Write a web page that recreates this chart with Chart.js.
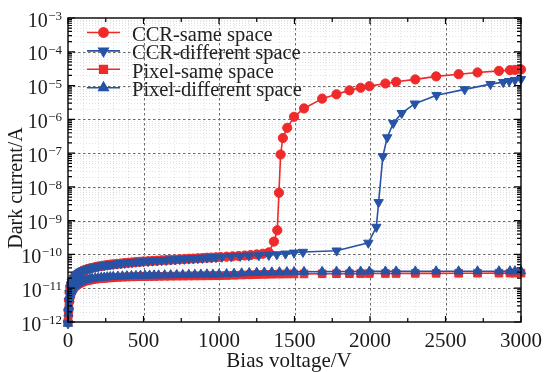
<!DOCTYPE html>
<html>
<head>
<meta charset="utf-8">
<script src="https://cdn.jsdelivr.net/npm/chart.js@4/dist/chart.umd.min.js"></script>
<style>
  html, body { margin: 0; padding: 0; background: #fff; }
  #wrap { width: 545px; height: 372px; position: relative; }
</style>
</head>
<body>
<div id="wrap"><canvas id="c" width="545" height="372"></canvas></div>
<script>
// ---------------- DATA ----------------
const seriesNames = ['CCR-same space', 'CCR-different space', 'Pixel-same space', 'Pixel-different space'];

const ccrSameV = [0,3,6,10,15,20,25,30,40,50,60,70,80,90,100,115,130,145,160,180,200,220,240,260,280,300,325,350,375,400,425,450,475,500,530,560,590,620,650,680,710,740,770,800,830,860,890,920,950,980,1010,1050,1090,1130,1170,1210,1250,1290,1330,1364,1386,1397,1408,1423,1452,1497,1563,1683,1778,1864,1938,1996,2102,2173,2300,2438,2587,2712,2854,2927,2960,3000];
const ccrSameI = [1.0e-12,2.2e-12,4.5e-12,7.5e-12,1.05e-11,1.3e-11,1.5e-11,1.7e-11,2.0e-11,2.3e-11,2.55e-11,2.75e-11,2.95e-11,3.1e-11,3.3e-11,3.5e-11,3.7e-11,3.85e-11,4.0e-11,4.2e-11,4.4e-11,4.55e-11,4.7e-11,4.85e-11,5.0e-11,5.1e-11,5.25e-11,5.4e-11,5.55e-11,5.7e-11,5.8e-11,5.95e-11,6.05e-11,6.2e-11,6.3e-11,6.45e-11,6.55e-11,6.7e-11,6.8e-11,6.95e-11,7.05e-11,7.2e-11,7.3e-11,7.45e-11,7.55e-11,7.7e-11,7.8e-11,8.0e-11,8.1e-11,8.25e-11,8.4e-11,8.6e-11,8.8e-11,9.0e-11,9.3e-11,9.6e-11,1.0e-10,1.05e-10,1.15e-10,2.4e-10,5.2e-10,6.7e-9,9.1e-8,2.8e-7,5.6e-7,1.19e-6,2.1e-6,4.1e-6,5.5e-6,7.2e-6,8.6e-6,9.6e-6,1.15e-5,1.29e-5,1.52e-5,1.87e-5,2.17e-5,2.44e-5,2.72e-5,2.86e-5,2.91e-5,3.0e-5];

const ccrDiffV = [0,3,6,10,15,20,25,30,40,50,60,70,80,90,100,115,130,145,160,180,200,220,240,260,280,300,325,350,375,400,425,450,475,500,530,560,590,620,650,680,710,740,770,800,830,860,890,920,950,980,1020,1080,1140,1197,1264,1330,1383,1440,1497,1556,1779,1989,2042,2057,2085,2114,2154,2210,2297,2441,2627,2798,2882,2922,2960,3000];
const ccrDiffI = [0.9e-12,2.0e-12,4.2e-12,7.2e-12,1.02e-11,1.28e-11,1.52e-11,1.72e-11,2.05e-11,2.35e-11,2.6e-11,2.8e-11,3.0e-11,3.15e-11,3.35e-11,3.55e-11,3.75e-11,3.9e-11,4.05e-11,4.25e-11,4.45e-11,4.6e-11,4.75e-11,4.9e-11,5.05e-11,5.15e-11,5.3e-11,5.45e-11,5.6e-11,5.75e-11,5.85e-11,6.0e-11,6.1e-11,6.25e-11,6.35e-11,6.5e-11,6.6e-11,6.75e-11,6.85e-11,7.0e-11,7.1e-11,7.25e-11,7.35e-11,7.5e-11,7.6e-11,7.75e-11,7.85e-11,8.0e-11,8.15e-11,8.3e-11,8.5e-11,8.8e-11,9.0e-11,9.2e-11,9.4e-11,9.6e-11,1.0e-10,1.05e-10,1.12e-10,1.18e-10,1.29e-10,2.2e-10,6.5e-10,3.5e-9,8.0e-8,2.9e-7,7.7e-7,1.52e-6,2.9e-6,5.2e-6,7.7e-6,1.1e-5,1.26e-5,1.35e-5,1.45e-5,1.55e-5];

const pixSameV = [0,3,6,10,15,20,25,30,40,50,60,70,80,90,100,115,130,145,160,180,200,220,240,260,280,300,330,360,390,420,450,480,510,540,570,600,640,680,720,760,800,840,880,920,960,1000,1050,1100,1150,1200,1250,1300,1350,1400,1450,1497,1563,1683,1778,1864,1938,1996,2102,2173,2300,2438,2587,2712,2854,2927,2960,3000];
const pixSameI = [1.0e-12,1.7e-12,2.8e-12,4.4e-12,6.0e-12,7.4e-12,8.4e-12,9.3e-12,1.07e-11,1.19e-11,1.29e-11,1.37e-11,1.44e-11,1.5e-11,1.56e-11,1.63e-11,1.69e-11,1.75e-11,1.8e-11,1.85e-11,1.9e-11,1.94e-11,1.97e-11,2.0e-11,2.03e-11,2.06e-11,2.1e-11,2.13e-11,2.15e-11,2.17e-11,2.19e-11,2.21e-11,2.22e-11,2.23e-11,2.24e-11,2.25e-11,2.26e-11,2.27e-11,2.28e-11,2.29e-11,2.3e-11,2.31e-11,2.32e-11,2.33e-11,2.34e-11,2.35e-11,2.38e-11,2.42e-11,2.46e-11,2.5e-11,2.54e-11,2.57e-11,2.6e-11,2.62e-11,2.64e-11,2.65e-11,2.66e-11,2.68e-11,2.69e-11,2.7e-11,2.71e-11,2.72e-11,2.73e-11,2.74e-11,2.75e-11,2.76e-11,2.77e-11,2.78e-11,2.79e-11,2.8e-11,2.8e-11,2.81e-11];

const pixDiffV = [0,3,6,10,15,20,25,30,40,50,60,70,80,90,100,115,130,145,160,180,200,220,240,260,280,300,330,360,390,420,450,480,510,540,570,600,640,680,720,760,800,840,880,920,960,1000,1050,1100,1150,1200,1250,1300,1350,1400,1450,1497,1563,1683,1778,1864,1938,1996,2102,2173,2300,2438,2587,2712,2854,2927,2960,3000];
const pixDiffI = [0.9e-12,1.8e-12,3.0e-12,4.8e-12,6.5e-12,8.0e-12,9.0e-12,1.0e-11,1.15e-11,1.28e-11,1.38e-11,1.47e-11,1.55e-11,1.62e-11,1.68e-11,1.75e-11,1.82e-11,1.88e-11,1.93e-11,1.98e-11,2.03e-11,2.07e-11,2.1e-11,2.14e-11,2.17e-11,2.2e-11,2.24e-11,2.27e-11,2.3e-11,2.32e-11,2.34e-11,2.36e-11,2.38e-11,2.4e-11,2.42e-11,2.43e-11,2.45e-11,2.46e-11,2.48e-11,2.5e-11,2.52e-11,2.54e-11,2.56e-11,2.6e-11,2.55e-11,2.58e-11,2.65e-11,2.72e-11,2.78e-11,2.85e-11,2.9e-11,2.95e-11,2.98e-11,3.0e-11,3.02e-11,3.05e-11,3.08e-11,3.1e-11,3.12e-11,3.13e-11,3.14e-11,3.15e-11,3.16e-11,3.16e-11,3.17e-11,3.18e-11,3.18e-11,3.19e-11,3.19e-11,3.2e-11,3.2e-11,3.2e-11];

const xTicks = [0, 500, 1000, 1500, 2000, 2500, 3000];
const yExponents = [-12, -11, -10, -9, -8, -7, -6, -5, -4, -3];

// ---------------- STYLE ----------------
const RED = '#ee2a2a';
const BLUE = '#2653a6';
const SERIF = '"Liberation Serif", "Times New Roman", serif';

function pts(v, i) { return v.map((x, k) => ({ x: x, y: i[k] })); }

const styles = [
  { color: RED,  point: 'circle',   rot: 0,   r: 4.6, order: 3 },
  { color: BLUE, point: 'triangle', rot: 180, r: 5.4, order: 1 },
  { color: RED,  point: 'rect',     rot: 0,   r: 5.4, order: 2 },
  { color: BLUE, point: 'triangle', rot: 0,   r: 5.4, order: 0 },
];
const seriesData = [pts(ccrSameV, ccrSameI), pts(ccrDiffV, ccrDiffI), pts(pixSameV, pixSameI), pts(pixDiffV, pixDiffI)];

const datasets = seriesData.map((d, k) => ({
  label: seriesNames[k],
  data: d,
  borderColor: styles[k].color,
  backgroundColor: styles[k].color,
  pointBackgroundColor: styles[k].color,
  pointBorderColor: styles[k].color,
  pointStyle: styles[k].point,
  rotation: styles[k].rot,
  pointRadius: styles[k].r,
  pointBorderWidth: 1,
  borderWidth: 1.6,
  tension: 0,
  clip: false,
  order: styles[k].order,
}));

const LEFT = 68, RIGHT_PAD = 24, TOP = 18, BOTTOM_H = 50;

const decorPlugin = {
  id: 'decor',
  beforeDatasetsDraw(chart) {
    const ctx = chart.ctx;
    const xs = chart.scales.x, ys = chart.scales.y;
    const a = chart.chartArea;
    ctx.save();
    // minor grid
    ctx.strokeStyle = 'rgba(0,0,0,0.11)';
    ctx.lineWidth = 1;
    ctx.setLineDash([1, 2]);
    for (let v = 100; v < 3000; v += 100) {
      if (v % 500 === 0) continue;
      const px = Math.round(xs.getPixelForValue(v)) + 0.5;
      ctx.beginPath(); ctx.moveTo(px, a.top); ctx.lineTo(px, a.bottom); ctx.stroke();
    }
    for (let e = -12; e < -3; e++) {
      for (let m = 2; m <= 9; m++) {
        const py = Math.round(ys.getPixelForValue(m * Math.pow(10, e))) + 0.5;
        ctx.beginPath(); ctx.moveTo(a.left, py); ctx.lineTo(a.right, py); ctx.stroke();
      }
    }
    // major grid
    ctx.strokeStyle = '#6a6a6a';
    ctx.setLineDash([2.5, 2.5]);
    xTicks.slice(1, -1).forEach(v => {
      const px = Math.round(xs.getPixelForValue(v)) + 0.5;
      ctx.beginPath(); ctx.moveTo(px, a.top); ctx.lineTo(px, a.bottom); ctx.stroke();
    });
    yExponents.slice(1, -1).forEach(e => {
      const py = Math.round(ys.getPixelForValue(Math.pow(10, e))) + 0.5;
      ctx.beginPath(); ctx.moveTo(a.left, py); ctx.lineTo(a.right, py); ctx.stroke();
    });
    ctx.restore();
  },
  afterDatasetsDraw(chart) {
    const ctx = chart.ctx;
    const xs = chart.scales.x, ys = chart.scales.y;
    const a = chart.chartArea;
    ctx.save();
    ctx.setLineDash([]);
    ctx.strokeStyle = '#000';
    ctx.lineWidth = 1.4;
    ctx.strokeRect(a.left, a.top, a.right - a.left, a.bottom - a.top);
    ctx.lineWidth = 1.2;
    // x ticks
    for (let v = 0; v <= 3000; v += 250) {
      const px = xs.getPixelForValue(v);
      const len = (v % 500 === 0) ? 6 : 4;
      ctx.beginPath();
      ctx.moveTo(px, a.bottom); ctx.lineTo(px, a.bottom - len);
      ctx.moveTo(px, a.top); ctx.lineTo(px, a.top + len);
      ctx.stroke();
    }
    // y ticks
    for (let e = -12; e <= -3; e++) {
      const py = ys.getPixelForValue(Math.pow(10, e));
      ctx.beginPath();
      ctx.moveTo(a.left, py); ctx.lineTo(a.left + 7, py);
      ctx.moveTo(a.right, py); ctx.lineTo(a.right - 7, py);
      ctx.stroke();
      if (e < -3) {
        for (let m = 2; m <= 9; m++) {
          const q = ys.getPixelForValue(m * Math.pow(10, e));
          ctx.beginPath();
          ctx.moveTo(a.left, q); ctx.lineTo(a.left + 4, q);
          ctx.moveTo(a.right, q); ctx.lineTo(a.right - 4, q);
          ctx.stroke();
        }
      }
    }
    // x tick labels
    ctx.fillStyle = '#1a1a1a';
    ctx.font = '21px ' + SERIF;
    ctx.textAlign = 'center';
    ctx.textBaseline = 'alphabetic';
    xTicks.forEach(v => {
      ctx.fillText(String(v), xs.getPixelForValue(v), 346.5);
    });
    // y tick labels with superscripts
    yExponents.forEach(e => {
      const py = ys.getPixelForValue(Math.pow(10, e));
      const sup = '\u2212' + String(-e);
      ctx.font = '13px ' + SERIF;
      const sw = ctx.measureText(sup).width;
      const supRight = 62;
      ctx.textAlign = 'left';
      ctx.fillText(sup, supRight - sw, py + 2);
      ctx.font = '20px ' + SERIF;
      ctx.textAlign = 'right';
      ctx.fillText('10', supRight - sw - 0.5, py + 8.5);
    });
    // axis titles
    ctx.font = '21px ' + SERIF;
    ctx.textAlign = 'center';
    ctx.fillText('Bias voltage/V', 289, 367);
    ctx.save();
    ctx.translate(22, 188);
    ctx.rotate(-Math.PI / 2);
    ctx.font = '20px ' + SERIF;
    ctx.fillText('Dark current/A', 0, 0);
    ctx.restore();
    // legend
    ctx.font = '20.5px ' + SERIF;
    ctx.textAlign = 'left';
    seriesNames.forEach((name, k) => {
      const y = 32.5 + 18.4 * k;
      const st = styles[k];
      ctx.strokeStyle = st.color;
      ctx.fillStyle = st.color;
      ctx.lineWidth = 1.6;
      ctx.beginPath(); ctx.moveTo(87, y); ctx.lineTo(120, y); ctx.stroke();
      Chart.helpers.drawPoint(ctx, { pointStyle: st.point, rotation: st.rot, radius: st.r, borderWidth: 1 }, 103.5, y);
      ctx.fillStyle = '#222';
      ctx.fillText(name, 132, y + 8.5);
    });
    ctx.restore();
  }
};

new Chart(document.getElementById('c'), {
  type: 'line',
  data: { datasets: datasets },
  options: {
    responsive: false,
    animation: false,
    devicePixelRatio: 1,
    layout: { padding: { left: 0, top: TOP, right: RIGHT_PAD, bottom: 0 } },
    plugins: { legend: { display: false }, tooltip: { enabled: false } },
    scales: {
      x: {
        type: 'linear', min: 0, max: 3000,
        grid: { display: false }, border: { display: false },
        ticks: { display: false },
        afterFit: s => { s.height = BOTTOM_H; }
      },
      y: {
        type: 'logarithmic', min: 1e-12, max: 1e-3,
        grid: { display: false }, border: { display: false },
        ticks: { display: false },
        afterFit: s => { s.width = LEFT; }
      }
    }
  },
  plugins: [decorPlugin]
});
</script>
</body>
</html>
